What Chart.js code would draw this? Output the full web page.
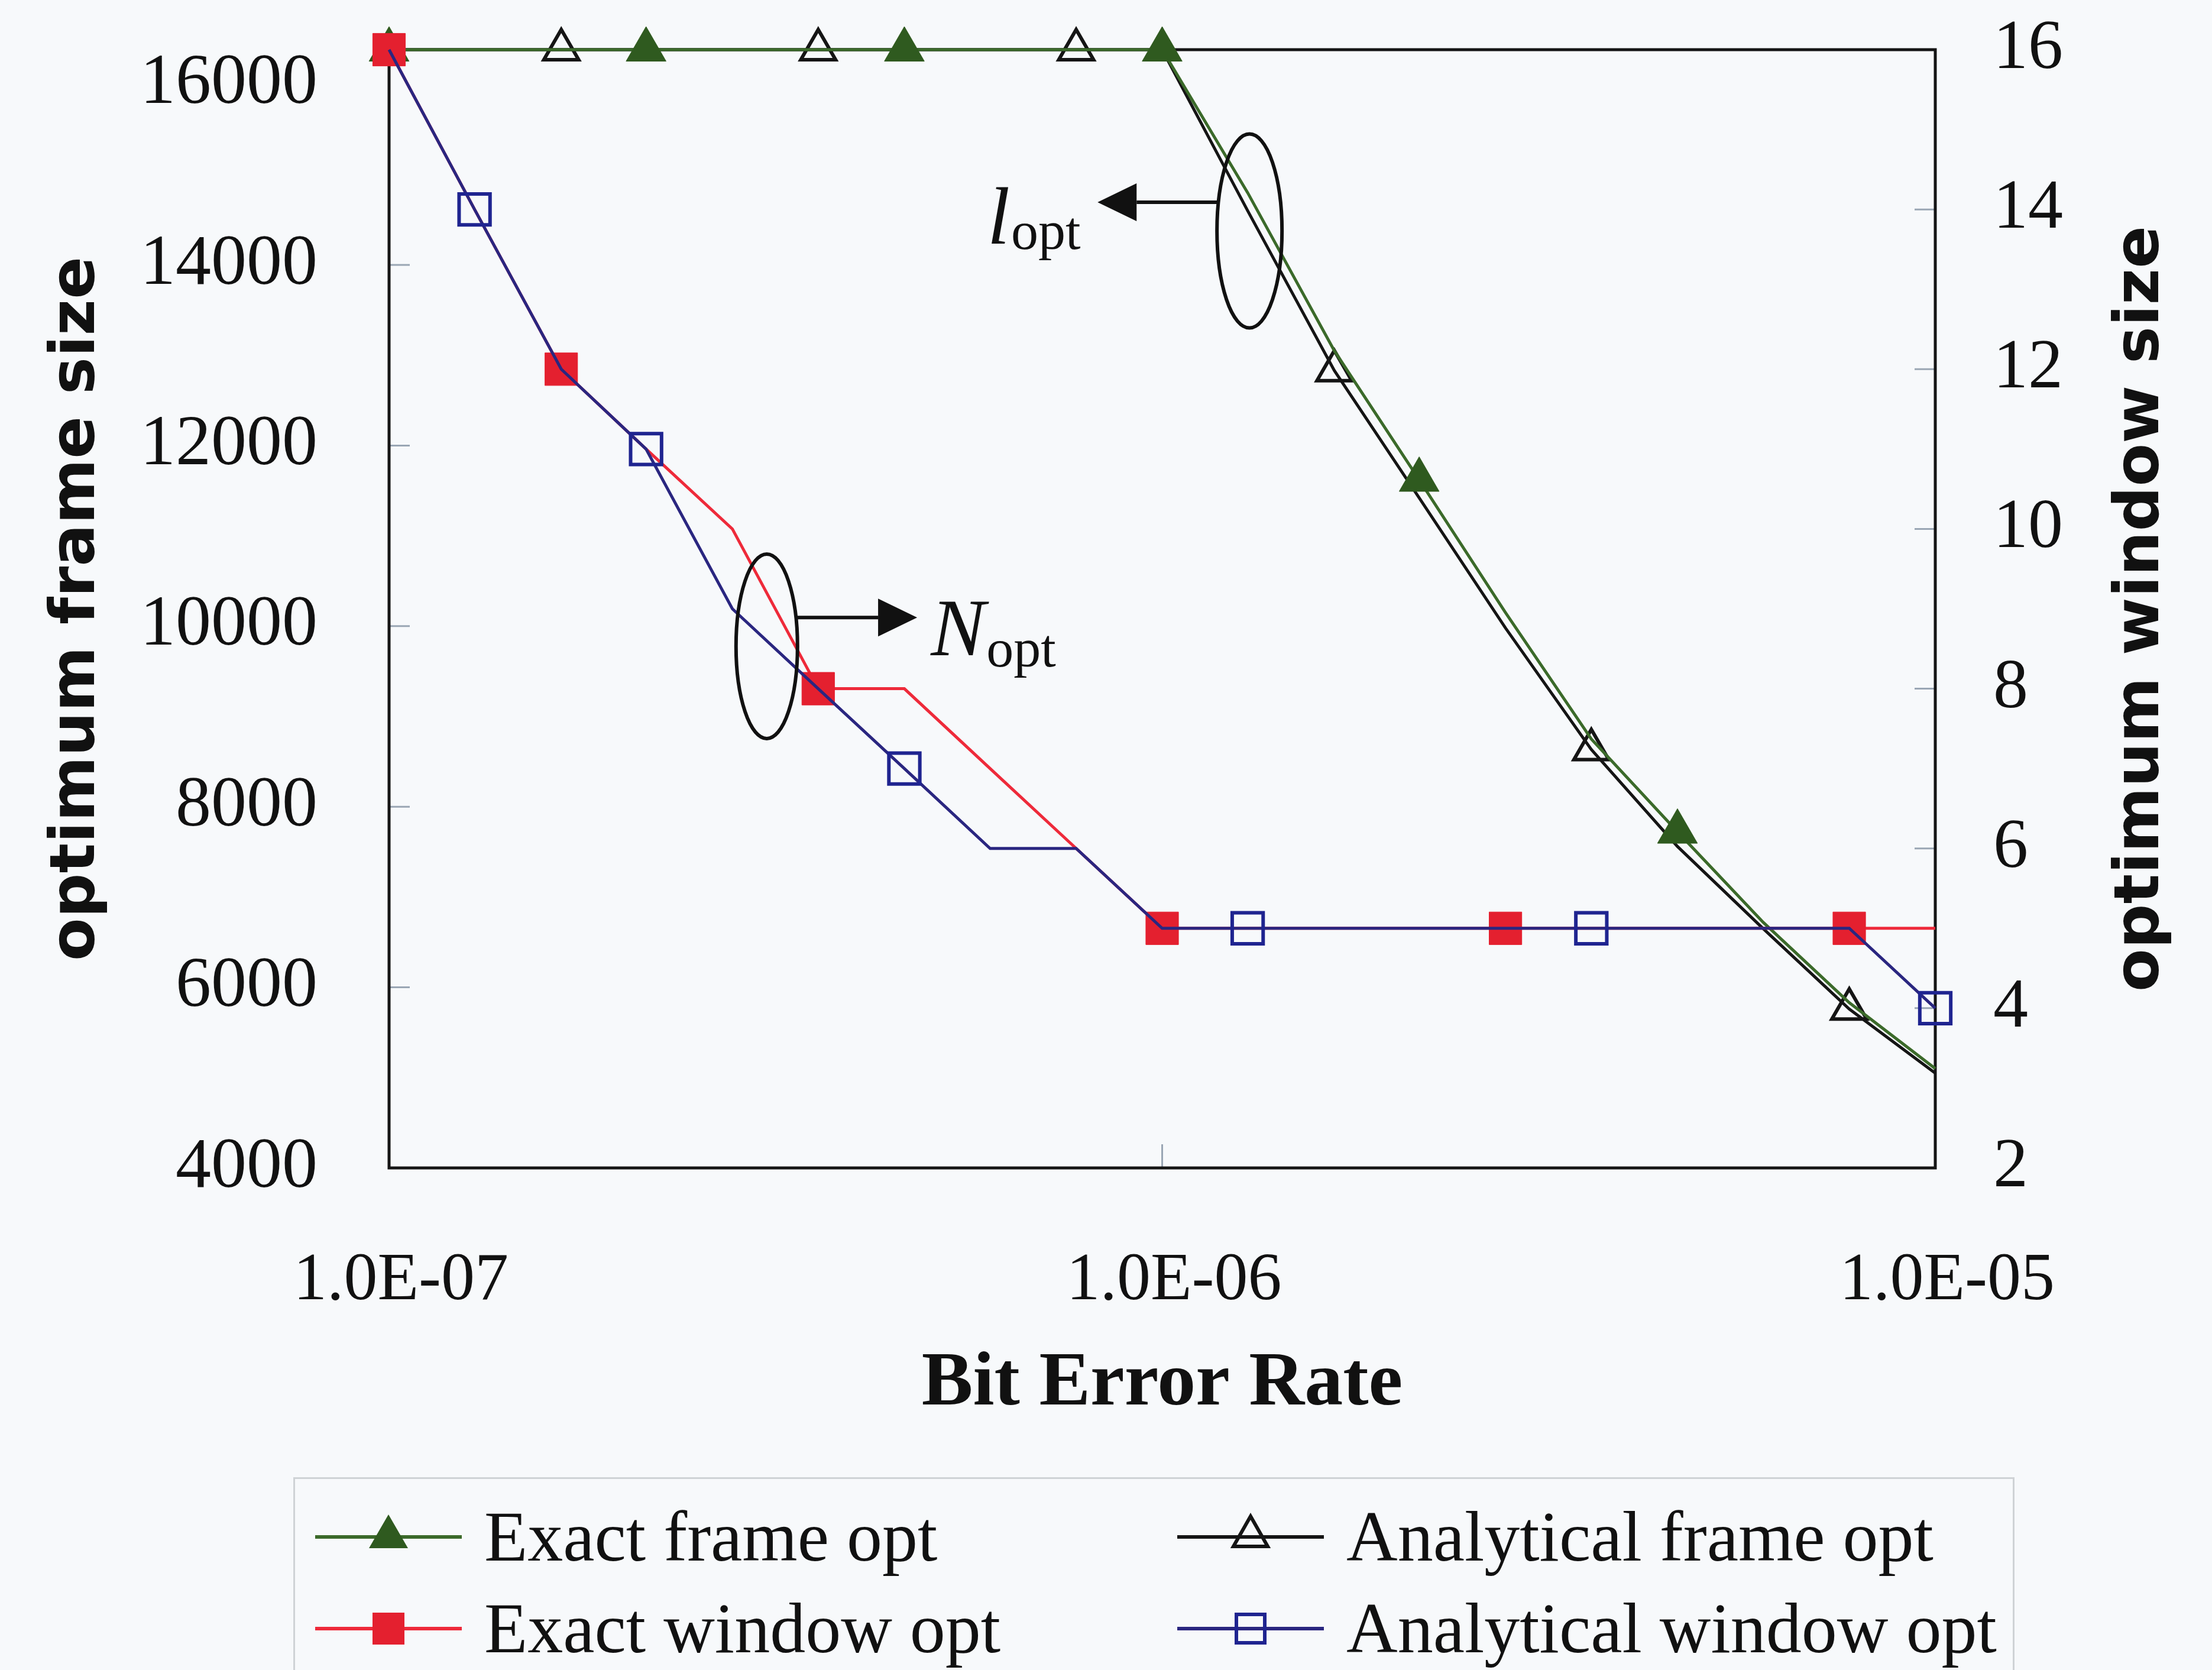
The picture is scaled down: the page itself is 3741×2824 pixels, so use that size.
<!DOCTYPE html>
<html>
<head>
<meta charset="utf-8">
<title>Optimum frame and window size vs bit error rate</title>
<script src="https://cdn.jsdelivr.net/npm/chart.js@4.4.1/dist/chart.umd.min.js"></script>
<style>
  html, body { margin: 0; padding: 0; background: #f7f9fb; overflow: hidden; }
  #wrap { position: relative; width: 3741px; height: 2824px; }
  #berChart { position: absolute; left: 0; top: 0; }
  .legend {
    position: absolute; left: 496px; top: 2498px; width: 2911px; height: 380px;
    border: 3px solid #cfd3d6; box-sizing: border-box;
    font-family: "Liberation Serif", "Times New Roman", serif; font-size: 120px; color: #111;
  }
  .legend__item { position: absolute; height: 130px; display: flex; align-items: center; white-space: nowrap; }
  .legend__item svg { width: 248px; height: 130px; margin-right: 38px; flex: none; }
</style>
</head>
<body>
<div id="wrap">
  <canvas id="berChart" width="3741" height="2824"></canvas>
  <div class="legend">
    <div class="legend__item" style="left:34px;top:33px">
      <svg viewBox="0 0 248 130"><line x1="0" y1="65" x2="248" y2="65" stroke="#3b6a2a" stroke-width="6"/><polygon points="124,27 157,84 91,84" fill="#2f5a1f"/></svg>
      <span>Exact frame opt</span>
    </div>
    <div class="legend__item" style="left:1492px;top:33px">
      <svg viewBox="0 0 248 130"><line x1="0" y1="65" x2="248" y2="65" stroke="#151515" stroke-width="6"/><polygon points="124,30 153,81 95,81" fill="none" stroke="#151515" stroke-width="6"/></svg>
      <span>Analytical frame opt</span>
    </div>
    <div class="legend__item" style="left:34px;top:188px">
      <svg viewBox="0 0 248 130"><line x1="0" y1="65" x2="248" y2="65" stroke="#ee2a3a" stroke-width="6"/><rect x="97" y="38" width="54" height="54" fill="#e4202f"/></svg>
      <span>Exact window opt</span>
    </div>
    <div class="legend__item" style="left:1492px;top:188px">
      <svg viewBox="0 0 248 130"><line x1="0" y1="65" x2="248" y2="65" stroke="#2a2680" stroke-width="6"/><rect x="100" y="41" width="48" height="48" fill="none" stroke="#1f2490" stroke-width="6"/></svg>
      <span>Analytical window opt</span>
    </div>
  </div>
</div>
<script>
const berValues = [
  1.0e-7, 1.29e-7, 1.67e-7, 2.15e-7, 2.78e-7, 3.59e-7, 4.64e-7, 5.99e-7, 7.74e-7,
  1.0e-6, 1.29e-6, 1.67e-6, 2.15e-6, 2.78e-6, 3.59e-6, 4.64e-6, 5.99e-6, 7.74e-6, 1.0e-5,
];
const exactFrame = [
  16384, 16384, 16384, 16384, 16384, 16384, 16384, 16384, 16384,
  16384, 14800, 13050, 11620, 10150, 8750, 7723, 6720, 5830, 5100,
];
const analyticalFrame = [
  16384, 16384, 16384, 16384, 16384, 16384, 16384, 16384, 16384,
  16384, 14600, 12830, 11420, 9980, 8634, 7560, 6650, 5760, 5050,
];
const exactWindow = [16, 14, 12, 11, 10, 8, 8, 7, 6, 5, 5, 5, 5, 5, 5, 5, 5, 5, 5];
const analyticalWindow = [16, 14, 12, 11, 9, 8, 7, 6, 6, 5, 5, 5, 5, 5, 5, 5, 5, 5, 4];

const xTickValues = [1e-7, 1e-6, 1e-5];
const frameTickValues = [4000, 6000, 8000, 10000, 12000, 14000, 16000];
const windowTickValues = [2, 4, 6, 8, 10, 12, 14, 16];

// which points carry a marker (Excel showed markers only on some points)
const exactFrameMarks = [0, 3, 6, 9, 12, 15];
const analyticalFrameMarks = [2, 5, 8, 11, 14, 17];
const exactWindowMarks = [0, 2, 5, 9, 13, 17];
const analyticalWindowMarks = [1, 3, 6, 10, 14, 18];

const serif = "'Liberation Serif', 'Times New Roman', serif";
const sans = "'DejaVu Sans', Verdana, sans-serif";

const toPoints = (ys) => berValues.map((x, i) => ({ x, y: ys[i] }));
const markRadius = (marks, r) => (ctx) => (marks.includes(ctx.dataIndex) ? r : 0);

const formatBer = (v) => {
  const exp = Math.round(Math.log10(v));
  const mant = v / Math.pow(10, exp);
  const sign = exp < 0 ? "-" : "+";
  return mant.toFixed(1) + "E" + sign + String(Math.abs(exp)).padStart(2, "0");
};

// fixed axis box so the plot area lands where the original one is
const fixAxis = (size) => (scale) => {
  if (scale.isHorizontal()) scale.height = size;
  else scale.width = size;
  scale.paddingTop = 0;
  scale.paddingBottom = 0;
  scale.paddingLeft = 0;
  scale.paddingRight = 0;
};

const notes = [
  { text: "N", sub: "opt", x: 3.08e-7, y: 8.53, rx: 52, ry: 156, arrowY: 8.89, tipX: 4.82e-7, labelX: 5.02e-7, labelY: 8.42, subDrop: 19 },
  { text: "l", sub: "opt", x: 1.297e-6, y: 13.73, rx: 55, ry: 164, arrowY: 14.09, tipX: 8.25e-7, labelX: 5.94e-7, labelY: 13.57, subDrop: 9 },
];

const framePlugin = {
  id: "plotFrame",
  beforeDatasetsDraw(chart) {
    const { ctx, chartArea: a, scales } = chart;
    ctx.save();
    ctx.strokeStyle = "#9aa6b4";
    ctx.lineWidth = 3;
    ctx.beginPath();
    frameTickValues.slice(1, -1).forEach((v) => {
      const py = scales.yFrame.getPixelForValue(v);
      ctx.moveTo(a.left, py);
      ctx.lineTo(a.left + 35, py);
    });
    windowTickValues.slice(1, -1).forEach((v) => {
      const py = scales.yWindow.getPixelForValue(v);
      ctx.moveTo(a.right, py);
      ctx.lineTo(a.right - 35, py);
    });
    xTickValues.slice(1, -1).forEach((v) => {
      const px = scales.x.getPixelForValue(v);
      ctx.moveTo(px, a.bottom);
      ctx.lineTo(px, a.bottom - 40);
    });
    ctx.stroke();
    ctx.strokeStyle = "#151515";
    ctx.lineWidth = 5;
    ctx.strokeRect(a.left, a.top, a.right - a.left, a.bottom - a.top);
    ctx.restore();
  },
  afterDatasetsDraw(chart) {
    const { ctx, scales } = chart;
    const sx = scales.x;
    const sy = scales.yWindow;
    ctx.save();
    ctx.strokeStyle = "#111";
    ctx.fillStyle = "#111";
    notes.forEach((n) => {
      const cx = sx.getPixelForValue(n.x);
      const cy = sy.getPixelForValue(n.y);
      ctx.lineWidth = 6;
      ctx.beginPath();
      ctx.ellipse(cx, cy, n.rx, n.ry, 0, 0, Math.PI * 2);
      ctx.stroke();

      const ay = sy.getPixelForValue(n.arrowY);
      const tip = sx.getPixelForValue(n.tipX);
      const dir = tip > cx ? 1 : -1;
      const dy = ay - cy;
      const start = cx + dir * n.rx * Math.sqrt(Math.max(0, 1 - (dy * dy) / (n.ry * n.ry)));
      const head = 66;
      ctx.beginPath();
      ctx.moveTo(start, ay);
      ctx.lineTo(tip - dir * head, ay);
      ctx.stroke();
      ctx.beginPath();
      ctx.moveTo(tip, ay);
      ctx.lineTo(tip - dir * head, ay - 32);
      ctx.lineTo(tip - dir * head, ay + 32);
      ctx.closePath();
      ctx.fill();

      const lx = sx.getPixelForValue(n.labelX);
      const ly = sy.getPixelForValue(n.labelY);
      ctx.textBaseline = "alphabetic";
      ctx.textAlign = "left";
      ctx.font = "italic 138px " + serif;
      ctx.fillText(n.text, lx, ly);
      const w = ctx.measureText(n.text).width;
      ctx.font = "92px " + serif;
      ctx.fillText(n.sub, lx + w + 2, ly + n.subDrop);
    });
    ctx.restore();
  },
  afterDraw(chart) {
    const { ctx, chartArea: a } = chart;
    ctx.save();
    ctx.translate(chart.width - 119, (a.top + a.bottom) / 2);
    ctx.rotate(-Math.PI / 2);
    ctx.font = "bold 106px " + sans;
    ctx.fillStyle = "#111";
    ctx.textAlign = "center";
    ctx.textBaseline = "middle";
    ctx.fillText("optimum window size", 0, 0);
    ctx.restore();
  },
};

const tickFont = (size) => ({ family: serif, size, lineHeight: 1 });

new Chart(document.getElementById("berChart"), {
  type: "line",
  data: {
    datasets: [
      {
        label: "Analytical window opt",
        data: toPoints(analyticalWindow),
        yAxisID: "yWindow",
        order: 1,
        borderColor: "#2a2680",
        borderWidth: 5,
        pointStyle: "rect",
        pointRadius: markRadius(analyticalWindowMarks, 37),
        pointBorderColor: "#1f2490",
        pointBackgroundColor: "rgba(0,0,0,0)",
        pointBorderWidth: 6,
      },
      {
        label: "Exact window opt",
        data: toPoints(exactWindow),
        yAxisID: "yWindow",
        order: 2,
        borderColor: "#ee2a3a",
        borderWidth: 5,
        pointStyle: "rect",
        pointRadius: markRadius(exactWindowMarks, 39),
        pointBorderColor: "#e4202f",
        pointBackgroundColor: "#e4202f",
        pointBorderWidth: 1,
      },
      {
        label: "Exact frame opt",
        data: toPoints(exactFrame),
        yAxisID: "yFrame",
        order: 3,
        borderColor: "#3b6a2a",
        borderWidth: 5,
        pointStyle: "triangle",
        pointRadius: markRadius(exactFrameMarks, 39),
        pointBorderColor: "#2f5a1f",
        pointBackgroundColor: "#2f5a1f",
        pointBorderWidth: 1,
      },
      {
        label: "Analytical frame opt",
        data: toPoints(analyticalFrame),
        yAxisID: "yFrame",
        order: 4,
        borderColor: "#151515",
        borderWidth: 5,
        pointStyle: "triangle",
        pointRadius: markRadius(analyticalFrameMarks, 34),
        pointBorderColor: "#151515",
        pointBackgroundColor: "rgba(0,0,0,0)",
        pointBorderWidth: 6,
      },
    ],
  },
  options: {
    responsive: false,
    animation: false,
    devicePixelRatio: 1,
    events: [],
    layout: { padding: { top: 84, bottom: 369, left: 0, right: 0 } },
    elements: { line: { tension: 0 } },
    datasets: { line: { clip: false } },
    plugins: { legend: { display: false }, tooltip: { enabled: false } },
    scales: {
      x: {
        type: "logarithmic",
        min: 1e-7,
        max: 1e-5,
        afterBuildTicks: (scale) => {
          scale.ticks = xTickValues.map((value) => ({ value }));
        },
        afterFit: fixAxis(480),
        grid: { display: false, drawTicks: false },
        border: { display: false },
        ticks: {
          autoSkip: false,
          maxRotation: 0,
          padding: 135,
          labelOffset: 20,
          color: "#111",
          font: tickFont(114),
          callback: (v) => formatBer(v),
        },
        title: {
          display: true,
          text: "Bit Error Rate",
          color: "#111",
          font: { family: serif, size: 130, weight: "bold", lineHeight: 1 },
          padding: { top: 0, bottom: 49 },
        },
      },
      yFrame: {
        type: "linear",
        position: "left",
        min: 4000,
        max: 16384,
        afterBuildTicks: (scale) => {
          scale.ticks = frameTickValues.map((value) => ({ value }));
        },
        afterFit: fixAxis(658),
        grid: { display: false, drawTicks: false },
        border: { display: false },
        ticks: { padding: 121, color: "#111", font: tickFont(120), callback: (v) => String(v) },
        title: {
          display: true,
          text: "optimum frame size",
          color: "#111",
          font: { family: sans, size: 106, weight: "bold", lineHeight: 1 },
          padding: { top: 78, bottom: 0 },
        },
      },
      yWindow: {
        type: "linear",
        position: "right",
        min: 2,
        max: 16,
        afterBuildTicks: (scale) => {
          scale.ticks = windowTickValues.map((value) => ({ value }));
        },
        afterFit: fixAxis(468),
        grid: { display: false, drawTicks: false },
        border: { display: false },
        ticks: { padding: 98, color: "#111", font: tickFont(118), callback: (v) => String(v) },
      },
    },
  },
  plugins: [framePlugin],
});
</script>
</body>
</html>
